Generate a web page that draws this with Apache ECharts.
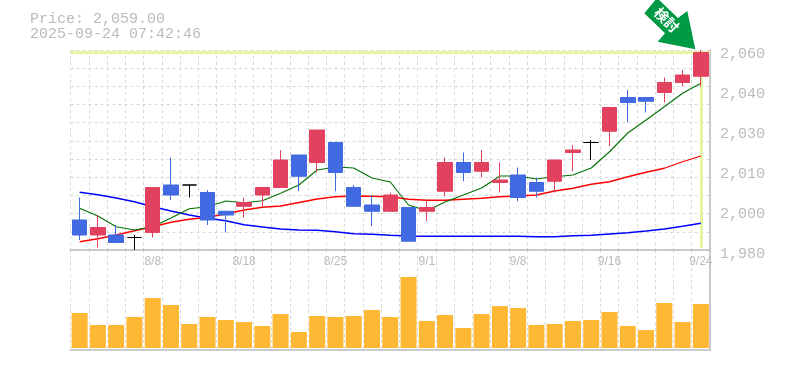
<!DOCTYPE html>
<html>
<head>
<meta charset="utf-8">
<style>html,body{margin:0;padding:0;background:#fff}#c{width:785px;height:370px}</style>
<script src="https://cdn.jsdelivr.net/npm/echarts@6/dist/echarts.min.js"></script>
</head>
<body>
<div id="c"></div>
<script>
const priceText = 'Price: 2,059.00';
const timeText = '2025-09-24 07:42:46';
const noteText = '検討';
const currentPrice = 2059;
const dates = ['8/4','8/5','8/6','8/7','8/8','8/12','8/13','8/14','8/15','8/18','8/19','8/20','8/21','8/22','8/25','8/26','8/27','8/28','8/29','9/1','9/2','9/3','9/4','9/5','9/8','9/9','9/10','9/11','9/12','9/16','9/17','9/18','9/19','9/22','9/24'];
const labeledDates = ['8/8','8/18','8/25','9/1','9/8','9/16','9/24'];
const priceLabels = ['1,980','2,000','2,010','2,030','2,040','2,060'];
const open  = [1992,1986,1986,1985,1987,2006,2006,2003,1995.5,1997.5,2002,2005,2018,2015,2023,2005,1998,1995.5,1997,1995.5,2003.5,2015,2011.5,2007,2010,2007,2007.5,2019,2023,2027.5,2041,2041,2043,2047,2049.5];
const close = [1986,1989,1983,1985,2005,2002,2006,1992,1994,1999,2005,2016,2009.5,2028,2011,1997.5,1995.5,2002,1983.5,1997,2015,2011,2015,2008,2001,2003.5,2016,2020,2023,2037,2039,2039.5,2047,2050,2059];
const low   = [1984,1981,1983,1980,1985,2000,2001,1990,1987,1993,1997.5,2005,2003.5,2011,2003.5,1997.5,1989.5,1995.5,1983.5,1991.5,2001.5,2007.5,2009,2003,1999.5,2001,2003,2011.5,2016,2021.5,2031,2035,2039,2045.5,2045.5];
const high  = [2001,1994,1990,1986,2005,2017,2006,2004,1995.5,2001,2005,2020,2018,2028,2023,2006,2002,2003,1997,2000,2017,2019,2020,2015,2013,2009,2016,2022,2024,2037,2044,2041,2049,2052,2060];
const ma5  = [1996.7,1993.6,1989.3,1988,1989.3,1992.8,1996.5,1997.3,1999.6,1998.9,1999.7,2002.7,2006,2012,2013.2,2012.8,2008.8,2007.2,1998,1995.7,1999.2,2002,2004.8,2009.6,2009.6,2008.4,2009.3,2010,2012.8,2019.3,2026.8,2032,2037.3,2042.7,2046.7];
const ma25 = [1983.3,1984.5,1986,1987.7,1989.3,1991.1,1992.3,1993.1,1994.4,1996,1997.1,1997.6,1999,2000.4,2001.3,2001.6,2001.5,2001.3,2000.3,1999.9,1999.9,2000.3,2000.7,2001.3,2001.6,2002,2003.6,2004.7,2006.3,2007.3,2009.3,2011.1,2012.7,2015.3,2017.6];
const ma75 = [2003.1,2002.1,2000.8,1999.3,1997.3,1995.6,1994,1992.7,1991.7,1990.1,1989.2,1988.4,1988,1987.9,1987.3,1986.5,1986.3,1985.9,1985.6,1985.5,1985.5,1985.5,1985.5,1985.5,1985.5,1985.3,1985.3,1985.7,1985.9,1986.4,1986.9,1987.6,1988.4,1989.5,1990.7];
const volume = [35,23,23,31,50,43,24,31,28,26,22,34,16,32,31,32,38,31,71,27,33,20,34,42,40,23,24,27,28,36,22,18,45,26,44];

const GREY = '#bbbbbb', DASH = '#d9d9d9', HILITE = '#e4f5a6';
const RED = '#e2425f', BLUE = '#4169e1';
const dashed = {show:true, lineStyle:{color:DASH, width:1, type:[3,3]}};
const solid = {show:true, onZero:false, lineStyle:{color:GREY, width:1.5}};
const chart = echarts.init(document.getElementById('c'), null, {renderer:'canvas'});
const lineSeries = (name, data, color, width, z, extra) => Object.assign({
  name, type:'line', data, xAxisIndex:0, yAxisIndex:0, symbol:'none', animation:false, silent:true, z,
  lineStyle:{color, width}
}, extra || {});
chart.setOption({
  animation:false,
  backgroundColor:'#fff',
  title:{
    text:priceText + '\n' + timeText, left:25, top:7,
    textStyle:{fontFamily:'Liberation Mono', fontSize:15, fontWeight:'normal', color:GREY, lineHeight:15}
  },
  grid:[
    {left:70.5, right:75, top:50, height:200},
    {left:70.5, right:75, top:250, height:100}
  ],
  xAxis:[
    {type:'category', gridIndex:0, data:dates, boundaryGap:true,
     axisLine:solid, axisTick:{show:false},
     axisLabel:{interval:(i,v)=>labeledDates.includes(v), fontFamily:'Liberation Sans', fontSize:12, color:GREY, margin:6, hideOverlap:false},
     splitLine:Object.assign({interval:0}, dashed)},
    {type:'category', gridIndex:1, data:dates, boundaryGap:true,
     axisLine:solid, axisTick:{show:false}, axisLabel:{show:false},
     splitLine:Object.assign({interval:0}, dashed)}
  ],
  yAxis:[
    {type:'value', gridIndex:0, min:1980, max:2060, position:'left', axisLine:{show:false}, axisTick:{show:false}, axisLabel:{show:false}, splitLine:{show:false}},
    {type:'value', gridIndex:0, min:0, max:priceLabels.length-1, interval:1, position:'right',
     axisLine:solid, axisTick:{show:false}, splitLine:{show:false},
     axisLabel:{formatter:v=>priceLabels[v], fontFamily:'Liberation Mono', fontSize:15, color:GREY, margin:10, verticalAlign:'top', lineHeight:9}},
    {type:'value', gridIndex:0, min:0, max:11, interval:1, position:'left', axisLine:{show:false}, axisTick:{show:false}, axisLabel:{show:false}, splitLine:dashed},
    {type:'value', gridIndex:1, min:-2, max:98, position:'right', axisLine:solid, axisTick:{show:false}, axisLabel:{show:false}, splitLine:{show:false}}
  ],
  series:[
    lineSeries('MA75', ma75, '#0000ff', 1.3, 3, {
      markLine:{silent:true, symbol:'none', z:1, animation:false, label:{show:false},
        lineStyle:{color:HILITE, width:3, type:'solid'},
        data:[
          [{coord:[dates[0],currentPrice],x:70.5},{coord:[dates[dates.length-1],currentPrice],x:710}],
          [{coord:[dates[dates.length-1],currentPrice]},{coord:[dates[dates.length-1],1980.8]}]
        ]}
    }),
    lineSeries('MA25', ma25, '#ff0000', 1.3, 3),
    lineSeries('MA5', ma5, '#007000', 1.1, 3),
    {name:'Price', type:'candlestick', xAxisIndex:0, yAxisIndex:0, z:5, animation:false, silent:true, barWidth:15,
     data:dates.map((d,i)=>[open[i],close[i],low[i],high[i]]),
     itemStyle:{color:RED, color0:BLUE, borderColor:RED, borderColor0:BLUE, borderColorDoji:'#000000', borderWidth:1}},
    {name:'Volume', type:'bar', xAxisIndex:1, yAxisIndex:3, data:volume, barWidth:16, animation:false, silent:true,
     itemStyle:{color:'#ffb833'}}
  ],
  graphic:[
    {type:'polygon', z:20, silent:true,
     shape:{points:[[644.3,13.3],[657,-2],[678,18],[687.3,11],[695.3,49.3],[657.7,41.7],[665,33.3]]},
     style:{fill:'#009a44'}},
    {type:'text', z:21, silent:true, x:666.7, y:20, rotation:-Math.PI/4,
     style:{text:noteText, fill:'#fff', font:'bold 14px "Noto Sans CJK JP"', align:'center', verticalAlign:'middle'}}
  ]
});
</script>
</body>
</html>
